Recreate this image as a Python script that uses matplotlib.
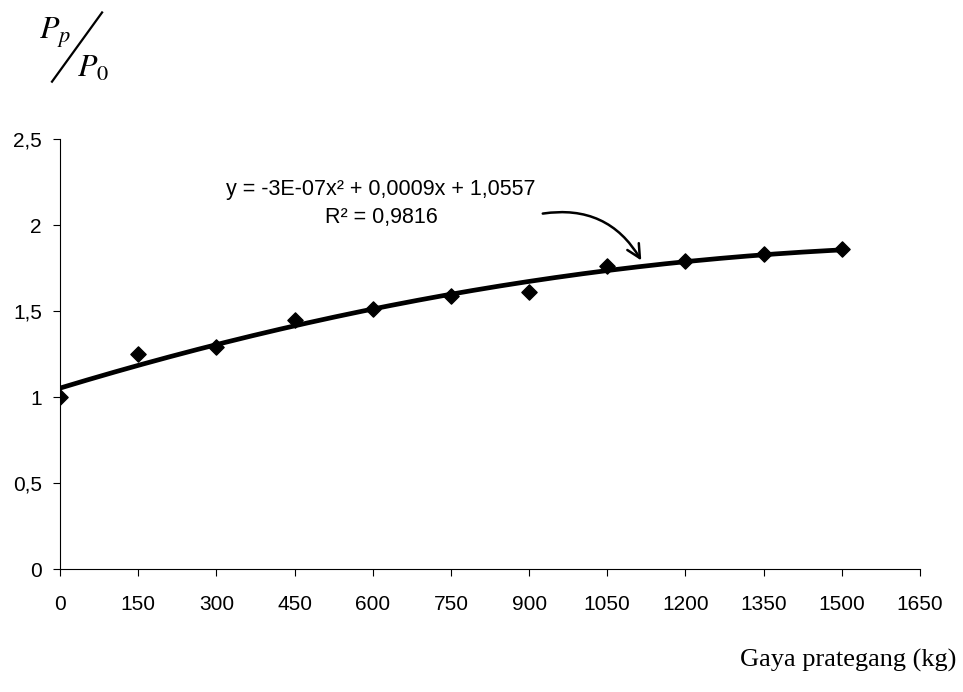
import numpy as np
import matplotlib
matplotlib.use("Agg")
import matplotlib.pyplot as plt

# data
gaya = [0, 150, 300, 450, 600, 750, 900, 1050, 1200, 1350, 1500]
rasio = [1.00, 1.25, 1.29, 1.45, 1.51, 1.59, 1.61, 1.76, 1.79, 1.83, 1.86]
xticks = [0, 150, 300, 450, 600, 750, 900, 1050, 1200, 1350, 1500, 1650]
yticks = [0, 0.5, 1, 1.5, 2, 2.5]
ytick_labels = ["0", "0,5", "1", "1,5", "2", "2,5"]
eq_text = "y = -3E-07x² + 0,0009x + 1,0557\nR² = 0,9816"

fig = plt.figure(figsize=(9.63, 6.92), dpi=100)
ax = fig.add_axes([0.0623, 0.1777, 0.8930, 0.6214])

# trend line (2nd order poly) and points
coef = np.polyfit(gaya, rasio, 2)
xs = np.linspace(0, 1500, 200)
ax.plot(xs, np.polyval(coef, xs), color="black", lw=3.4, zorder=2)
ax.scatter(gaya, rasio, marker="D", s=60, color="black", zorder=3)

ax.set_xlim(0, 1650)
ax.set_ylim(0, 2.5)
ax.set_xticks(xticks)
ax.set_xticklabels([str(t) for t in xticks], fontsize=15, family="Liberation Sans")
ax.set_yticks(yticks)
ax.set_yticklabels(ytick_labels, fontsize=15, family="Liberation Sans")
ax.tick_params(axis="both", direction="out", length=5, width=0.8)
ax.tick_params(axis="x", pad=14)
ax.tick_params(axis="y", pad=8)
for s in ["top", "right"]:
    ax.spines[s].set_visible(False)
ax.spines["left"].set_linewidth(0.8)
ax.spines["bottom"].set_linewidth(0.8)

ax.text(616, 2.125, eq_text, ha="center", va="center", fontsize=15.5,
        family="Liberation Sans", linespacing=1.45)
ax.annotate("", xy=(1118, 1.78), xytext=(921, 2.064),
            arrowprops=dict(arrowstyle="->", color="black", lw=1.8,
                            connectionstyle="arc3,rad=-0.35", mutation_scale=24))

# axis labels
fig.text(0.993, 0.046, "Gaya prategang (kg)", ha="right", va="center",
         fontsize=19, family="Liberation Serif")
fig.text(0.040, 0.952, r"$P_p$", fontsize=23, family="Liberation Serif",
         math_fontfamily="stix", ha="left", va="center")
fig.text(0.080, 0.900, r"$P_0$", fontsize=23, family="Liberation Serif",
         math_fontfamily="stix", ha="left", va="center")
fig.add_artist(plt.Line2D([0.054, 0.106], [0.882, 0.982], color="black",
                          lw=1.6, transform=fig.transFigure))

fig.savefig("out.png", dpi=100)
